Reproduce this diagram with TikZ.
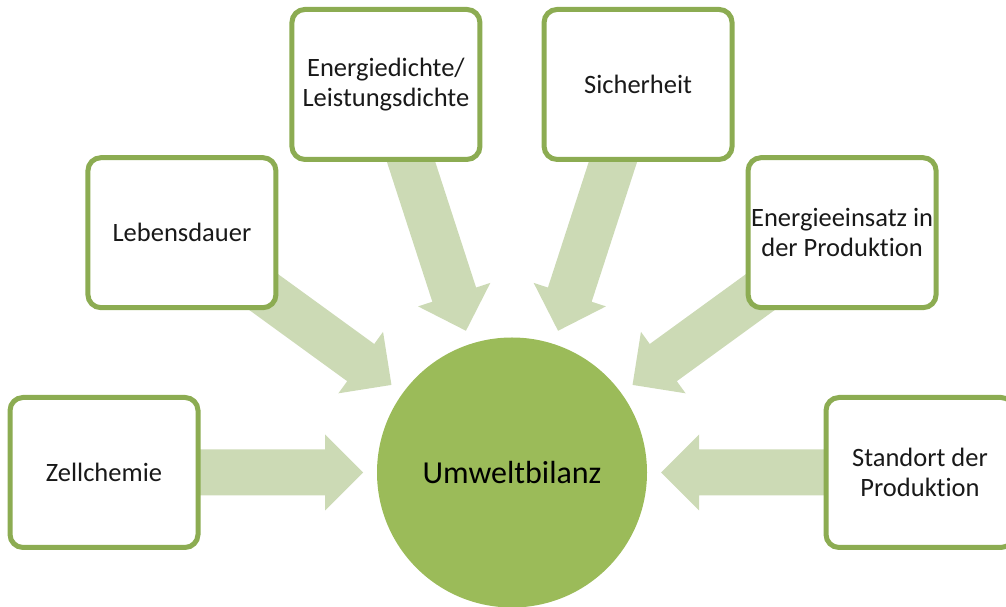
\documentclass[tikz,border=0pt]{standalone}
\usepackage{fontspec}
\setmainfont{Carlito}[Ligatures=NoCommon]
\usetikzlibrary{calc,backgrounds}

\definecolor{boxline}{HTML}{8CAC52}
\definecolor{hubfill}{HTML}{9BBB59}
\definecolor{flowfill}{HTML}{CCDAB5}

\tikzset{
  factor/.style={draw=boxline, line width=5pt, fill=white, rounded corners=13pt,
    minimum width=188pt, minimum height=150pt, inner sep=0pt, align=center,
    font=\fontsize{26.5}{30}\selectfont, text=black!90},
  hub/.style={circle, fill=hubfill, minimum size=270pt, inner sep=0pt,
    font=\fontsize{32}{40}\selectfont, text=black},
  flow/.style={fill=flowfill}
}

% Broad block arrow from the centre of #1 to the point #2
\newcommand\blockarrow[2]{%
  \path (#1); \pgfgetlastxy{\baX}{\baY}%
  \path (#2); \pgfgetlastxy{\bbX}{\bbY}%
  \pgfmathsetmacro\baAng{atan2(\bbY-\baY,\bbX-\baX)}%
  \pgfmathsetmacro\baLen{veclen(\bbX-\baX,\bbY-\baY)}%
  \fill[flow, shift={(\baX,\baY)}, rotate=\baAng]
    (0,-23) -- (\baLen-38,-23) -- (\baLen-38,-38) -- (\baLen,0)
    -- (\baLen-38,38) -- (\baLen-38,23) -- (0,23) -- cycle;%
}

\begin{document}
\begin{tikzpicture}[x=1pt, y=1pt]
  \useasboundingbox (0,0) rectangle (1006,607);

  \node[hub] (bilanz) at (512,134.5) {Umweltbilanz};

  \node[factor] (zell)  at ($(bilanz)+(180:408)$) {Zellchemie};
  \node[factor] (leben) at ($(bilanz)+(144:408)$) {Lebensdauer};
  \node[factor] (dichte) at ($(bilanz)+(108:408)$) {Energiedichte/\\Leistungsdichte};
  \node[factor] (sicher) at ($(bilanz)+(72:408)$) {Sicherheit};
  \node[factor] (einsatz) at ($(bilanz)+(36:408)$) {Energieeinsatz in\\der Produktion};
  \node[factor] (standort) at ($(bilanz)+(0:408)$) {Standort der\\Produktion};

  \foreach \src in {zell,leben,dichte,sicher,einsatz,standort}{
    \coordinate (tip-\src) at ($(bilanz.center)!149pt!(\src.center)$);
  }

  \begin{pgfonlayer}{background}
    \foreach \src in {zell,leben,dichte,sicher,einsatz,standort}{
      \blockarrow{\src.center}{tip-\src}
    }
  \end{pgfonlayer}
\end{tikzpicture}
\end{document}
